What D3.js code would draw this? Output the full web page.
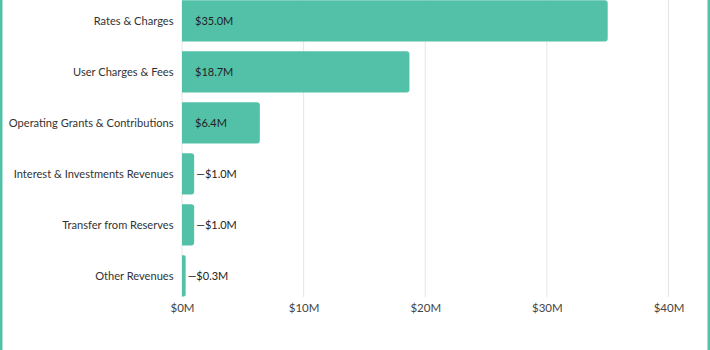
<!DOCTYPE html>
<html>
<head>
<meta charset="utf-8">
<script src="https://cdn.jsdelivr.net/npm/d3@7"></script>
<style>
  html, body { margin: 0; padding: 0; background: #fff; }
  svg { display: block; font-family: 'Lato', sans-serif; }
</style>
</head>
<body>
<svg id="chart" width="710" height="350"></svg>
<script>
const categories = [
  'Rates & Charges',
  'User Charges & Fees',
  'Operating Grants & Contributions',
  'Interest & Investments Revenues',
  'Transfer from Reserves',
  'Other Revenues'
]
const values = [35.0, 18.7, 6.4, 1.0, 1.0, 0.3]
const ticks = [0, 10, 20, 30, 40]

function drawChart() {
  const svg = d3.select('#chart')
  svg.selectAll('*').remove()

  const teal = '#52c1a8'
  const insideMin = 5

  // frame lines left and right
  svg.append('rect').attr('x', 0).attr('y', 0).attr('width', 2.5).attr('height', 350).attr('fill', teal)
  svg.append('rect').attr('x', 707.5).attr('y', 0).attr('width', 2.5).attr('height', 350).attr('fill', teal)

  const x = d3.scaleLinear().domain([0, 40]).range([182, 668.5])
  const y = d3.scaleBand()
    .domain(categories)
    .range([-9.4, 306.3])
    .paddingInner(0.19)
    .paddingOuter(0.19)

  const data = categories.map((c, i) => ({ name: c, value: values[i] }))

  // grid
  svg.append('g')
    .selectAll('line')
    .data(ticks)
    .join('line')
    .attr('x1', d => x(d)).attr('x2', d => x(d))
    .attr('y1', 0).attr('y2', 297)
    .attr('stroke', '#e4e6e6')
    .attr('stroke-width', 1)

  // x axis labels
  const xAxis = d3.axisBottom(x).tickValues(ticks).tickFormat(d => '$' + d + 'M').tickSize(0).tickPadding(0)
  const gx = svg.append('g').attr('transform', 'translate(0,304)').call(xAxis)
  gx.select('.domain').remove()
  gx.selectAll('text').attr('fill', '#444').style('font-size', '11.5px')
    .style('font-family', "'Lato', sans-serif").attr('dy', '0.71em')

  // bars
  svg.append('g')
    .selectAll('path')
    .data(data)
    .join('path')
    .attr('fill', teal)
    .attr('d', d => {
      const x0 = x(0), x1 = x(d.value), y0 = y(d.name), h = y.bandwidth()
      const r = Math.min(3, (x1 - x0) / 2)
      return `M${x0},${y0}H${x1 - r}Q${x1},${y0} ${x1},${y0 + r}V${y0 + h - r}Q${x1},${y0 + h} ${x1 - r},${y0 + h}H${x0}Z`
    })

  // category labels
  const gy = svg.append('g').attr('transform', 'translate(173.5,0)')
    .call(d3.axisLeft(y).tickSize(0).tickPadding(0))
  gy.select('.domain').remove()
  gy.selectAll('text').attr('fill', '#333').style('font-size', '11.1px')
    .style('font-family', "'Lato', sans-serif")

  // value labels
  svg.append('g')
    .selectAll('text')
    .data(data)
    .join('text')
    .attr('x', d => d.value >= insideMin ? x(0) + 13 : x(d.value) + 2)
    .attr('y', d => y(d.name) + y.bandwidth() / 2)
    .attr('dy', '0.35em')
    .attr('fill', '#222')
    .style('font-size', '11px')
    .text(d => (d.value >= insideMin ? '' : '\u2014') + '$' + d.value.toFixed(1) + 'M')
}

document.addEventListener('DOMContentLoaded', drawChart, false)
</script>
</body>
</html>
